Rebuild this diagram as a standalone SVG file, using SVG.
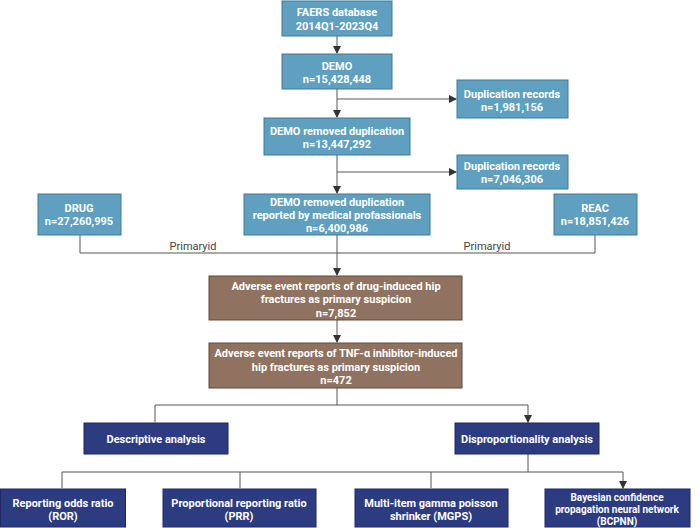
<svg xmlns="http://www.w3.org/2000/svg" width="700" height="528" viewBox="0 0 700 528">
<style>
.b{fill:#5f9fbf;stroke:#3f7b9a;stroke-width:1}
.r{fill:#8f725f;stroke:#5e4a3d;stroke-width:1}
.n{fill:#2d3b80;stroke:#1d2960;stroke-width:1}
text{font-family:Roboto,"Liberation Sans",sans-serif;font-weight:bold;font-size:11px;fill:#fff;text-anchor:middle}
.l{fill:#444;font-weight:normal;font-size:11px}
.s{font-size:10px}
.c{fill:none;stroke:#555;stroke-width:1}
</style>
<defs><marker id="a" markerWidth="8" markerHeight="8" refX="7" refY="4" orient="auto" markerUnits="userSpaceOnUse"><path d="M0,0L8,4L0,8z" fill="#333"/></marker></defs>
<g id="connectors" class="c">
<path d="M337,36V53" marker-end="url(#a)"/>
<path d="M337,89V117" marker-end="url(#a)"/>
<path d="M337,99H456" marker-end="url(#a)"/>
<path d="M337,155V193" marker-end="url(#a)"/>
<path d="M337,172H456" marker-end="url(#a)"/>
<path d="M337,235V275" marker-end="url(#a)"/>
<path d="M80,235V253H595V235"/>
<path d="M337,320V342" marker-end="url(#a)"/>
<path d="M337,388V405M155,405H528M155,405V422M528,405V422" marker-end="url(#a)"/>
<path d="M528,454V472M62,472H623M62,472V488M240,472V488M431,472V488M623,472V488" marker-end="url(#a)"/>
</g>
<text class="l" x="193" y="250">Primaryid</text>
<text class="l" x="487" y="250">Primaryid</text>
<g id="faers"><rect class="b" x="282" y="1" width="110" height="35"/><text x="337" y="16">FAERS database</text><text x="337" y="30">2014Q1-2023Q4</text></g>
<g id="demo"><rect class="b" x="282" y="54" width="110" height="35"/><text x="337" y="70">DEMO</text><text x="337" y="83">n=15,428,448</text></g>
<g id="dup1"><rect class="b" x="457" y="80" width="111" height="38"/><text x="512" y="98">Duplication records</text><text x="512" y="111">n=1,981,156</text></g>
<g id="demo2"><rect class="b" x="264" y="118" width="146" height="37"/><text x="337" y="135">DEMO removed duplication</text><text x="337" y="148">n=13,447,292</text></g>
<g id="dup2"><rect class="b" x="457" y="155" width="111" height="34"/><text x="512" y="170">Duplication records</text><text x="512" y="183">n=7,046,306</text></g>
<g id="demo3"><rect class="b" x="244" y="194" width="186" height="41"/><text x="337" y="206">DEMO removed duplication</text><text x="337" y="219">reported by medical profassionals</text><text x="337" y="232">n=6,400,986</text></g>
<g id="drug"><rect class="b" x="38" y="194" width="83" height="41"/><text x="79" y="212">DRUG</text><text x="79" y="225">n=27,260,995</text></g>
<g id="reac"><rect class="b" x="554" y="194" width="83" height="41"/><text x="595" y="212">REAC</text><text x="595" y="225">n=18,851,426</text></g>
<g id="ae1"><rect class="r" x="209" y="276" width="253" height="44"/><text x="336" y="290">Adverse event reports of drug-induced hip</text><text x="336" y="303">fractures as primary suspicion</text><text x="336" y="317">n=7,852</text></g>
<g id="ae2"><rect class="r" x="209" y="343" width="253" height="45"/><text x="336" y="357">Adverse event reports of TNF-α inhibitor-induced</text><text x="336" y="371">hip fractures as primary suspicion</text><text x="336" y="384">n=472</text></g>
<g id="desc"><rect class="n" x="84" y="423" width="144" height="31"/><text x="156" y="443">Descriptive analysis</text></g>
<g id="disp"><rect class="n" x="455" y="423" width="144" height="31"/><text x="527" y="443">Disproportionality analysis</text></g>
<g id="ror"><rect class="n" x="0.5" y="489" width="125" height="38"/><text x="63" y="507">Reporting odds ratio</text><text x="63" y="520">(ROR)</text></g>
<g id="prr"><rect class="n" x="163" y="489" width="153" height="38"/><text x="239" y="507">Proportional reporting ratio</text><text x="239" y="520">(PRR)</text></g>
<g id="mgps"><rect class="n" x="355" y="489" width="153" height="38"/><text x="431" y="507">Multi-item gamma poisson</text><text x="431" y="520">shrinker (MGPS)</text></g>
<g id="bcpnn"><rect class="n" x="545" y="489" width="145" height="38"/><text class="s" x="617" y="501">Bayesian confidence</text><text class="s" x="617" y="513">propagation neural network</text><text class="s" x="617" y="525">(BCPNN)</text></g>
</svg>
